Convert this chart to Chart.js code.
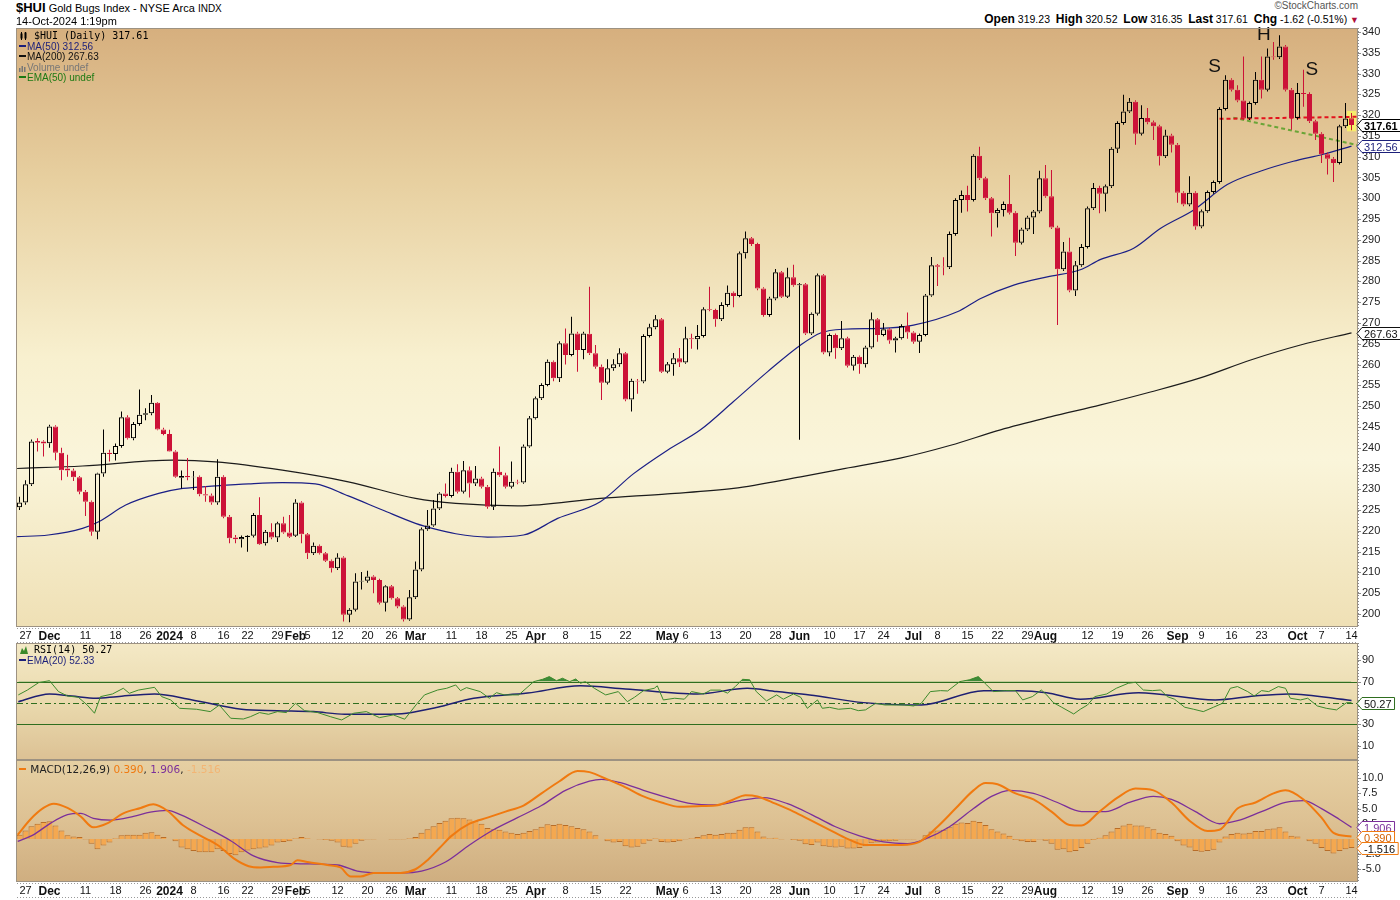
<!DOCTYPE html>
<html>
<head>
<meta charset="utf-8">
<title>$HUI Gold Bugs Index</title>
<script src="https://cdn.jsdelivr.net/npm/chart.js@4.4.1/dist/chart.umd.min.js"></script>
<style>
  html, body { margin: 0; padding: 0; background: #fff; }
  body { width: 1400px; height: 900px; position: relative; overflow: hidden; font-family: "Liberation Sans", Arial, sans-serif; color: #000; }
  canvas { position: absolute; left: 0; }
  .txt { position: absolute; white-space: nowrap; z-index: 2; }
  .mono { font-family: "DejaVu Sans Mono", monospace; font-size: 10px; }
  .leg { font-size: 10px; line-height: 10px; }
  .dash { display: inline-block; width: 7px; height: 2px; vertical-align: middle; margin-right: 1px; position: relative; top: -1px; }
  .hb { font-size: 12px; font-weight: bold; }
</style>
</head>
<body>

<div class="txt" style="left:16px;top:1px;font-size:11px;line-height:14px"><b style="font-size:13px">$HUI</b> Gold Bugs Index - NYSE Arca <span style="font-size:10px">INDX</span></div>
<div class="txt" style="left:16px;top:15px;font-size:11px;line-height:13px">14-Oct-2024 1:19pm</div>
<div class="txt" style="right:42px;top:0px;font-size:10px;line-height:11px;color:#555">©StockCharts.com</div>
<div class="txt" style="right:41px;top:12px;font-size:10.5px;line-height:14px"><span class="hb">Open</span> 319.23 &nbsp;<span class="hb">High</span> 320.52 &nbsp;<span class="hb">Low</span> 316.35 &nbsp;<span class="hb">Last</span> 317.61 &nbsp;<span class="hb">Chg</span> -1.62 (-0.51%) <span style="color:#b0103a;font-size:9px">▼</span></div>

<div class="txt mono" style="left:20px;top:31px;line-height:10px"><svg width="8" height="8" style="vertical-align:-1px"><rect x="0.5" y="1.5" width="2" height="5" fill="#000"/><rect x="4.5" y="0.5" width="2" height="6" fill="#000"/><line x1="1.5" y1="0" x2="1.5" y2="8" stroke="#000"/><line x1="5.5" y1="0" x2="5.5" y2="8" stroke="#000"/></svg> $HUI (Daily) 317.61</div>
<div class="txt leg" style="left:19px;top:42px;color:#1b1f7a"><span class="dash" style="background:#1b1f7a"></span>MA(50) 312.56</div>
<div class="txt leg" style="left:19px;top:52px;color:#111"><span class="dash" style="background:#111"></span>MA(200) 267.63</div>
<div class="txt leg" style="left:19px;top:63px;color:#777"><svg width="7" height="7" style="vertical-align:-1px;margin-right:1px"><rect x="0" y="3" width="1.5" height="4" fill="#777"/><rect x="2.5" y="1" width="1.5" height="6" fill="#777"/><rect x="5" y="2" width="1.5" height="5" fill="#777"/></svg>Volume undef</div>
<div class="txt leg" style="left:19px;top:73px;color:#1d7a14"><span class="dash" style="background:#1d7a14"></span>EMA(50) undef</div>

<div class="txt mono" style="left:20px;top:645px;line-height:10px"><svg width="8" height="8" style="vertical-align:-1px"><path d="M0 8 L2 2 L4 5 L6 0 L8 8 Z" fill="#3a8a2a"/></svg> RSI(14) 50.27</div>
<div class="txt leg" style="left:19px;top:656px;color:#1b1f7a"><span class="dash" style="background:#1b1f7a"></span>EMA(20) 52.33</div>

<div class="txt" style="left:19px;top:764px;font-family:'DejaVu Sans',sans-serif;font-size:10.5px;line-height:11px;color:#222"><span class="dash" style="background:#f07a10"></span> MACD(12,26,9) <span style="color:#f07a10">0.390</span>, <span style="color:#7b2f9a">1.906</span>, <span style="color:#f3b574">-1.516</span></div>

<canvas id="cPrice" width="1400" height="616" style="top:27px"></canvas>
<canvas id="cRsi" width="1400" height="117" style="top:643px"></canvas>
<canvas id="cMacd" width="1400" height="138" style="top:760px"></canvas>

<script>
// ---- daily candles, Nov 24 2023 .. Oct 14 2024 (index = trading day) ----
const opens = [
  225.7,226.8,231.2,241.6,241.5,241.1,245.1,238.8,235.0,234.5,
  232.9,229.4,227.0,219.8,233.8,238.8,238.5,240.4,247.3,242.3,
  245.7,247.9,248.3,250.8,244.4,243.3,239.1,232.8,233.2,232.9,
  233.0,228.8,228.5,226.8,233.0,223.4,218.4,218.0,218.5,218.8,
  223.8,217.0,219.8,218.4,221.8,219.6,218.8,226.8,219.2,214.6,
  216.4,214.6,212.8,211.0,213.6,199.8,201.0,207.8,208.0,209.0,
  208.2,202.7,206.7,203.8,201.8,198.7,204.0,210.7,220.4,221.3,
  225.4,229.0,228.4,234.2,229.4,234.6,231.4,232.6,230.6,225.8,
  234.2,233.4,230.6,231.8,231.6,240.3,247.1,251.9,255.1,260.7,
  256.7,265.1,262.3,267.5,263.5,267.4,262.7,259.5,255.6,259.1,
  260.1,262.7,251.6,256.1,255.9,266.9,269.0,270.9,258.3,260.1,
  261.5,260.5,266.3,266.1,266.9,273.3,273.1,270.9,274.3,277.3,
  276.5,286.8,290.4,289.0,278.3,271.9,275.9,282.2,276.3,281.0,
  279.1,279.3,267.5,272.2,281.5,262.9,267.1,263.9,266.3,259.7,
  261.9,260.1,264.1,270.9,267.1,268.5,265.8,266.3,269.3,267.7,
  265.5,267.1,276.6,283.9,283.5,283.4,291.4,299.6,300.8,299.6,
  310.2,304.8,300.0,296.4,297.2,298.6,296.5,289.3,292.5,295.4,
  296.8,304.8,300.5,293.0,282.9,287.2,277.8,283.9,288.3,297.6,
  302.5,301.1,302.9,311.9,318.1,320.9,323.2,315.5,319.3,318.3,
  317.3,310.1,315.1,312.9,301.3,298.5,301.3,293.2,296.9,301.5,
  303.9,321.5,328.5,326.1,323.5,319.2,322.9,328.5,326.1,334.1,
  333.9,336.5,326.1,319.3,325.3,325.1,318.5,315.5,310.6,309.5,
  308.5,317.3,319.23
];
const highs = [
  228.2,232.2,242.0,242.3,241.8,245.5,245.4,240.0,238.3,235.0,
  233.2,229.8,227.3,234.0,244.4,239.5,241.0,248.7,247.8,246.2,
  254.0,249.5,252.7,251.0,244.8,244.3,239.4,234.5,237.5,234.4,
  233.3,230.8,229.0,237.2,233.4,223.8,219.0,218.9,219.0,224.3,
  228.1,220.2,221.8,222.2,223.4,223.8,227.6,227.1,219.5,217.2,
  216.7,214.9,213.1,214.6,213.9,201.4,209.8,210.1,210.4,209.3,
  208.5,206.9,207.0,204.1,202.1,205.8,212.6,220.8,225.0,227.4,
  229.3,231.4,235.2,236.0,236.8,235.5,235.6,233.0,231.0,235.0,
  240.3,234.0,236.7,232.3,240.8,247.6,252.3,255.5,261.2,261.0,
  265.6,268.7,271.5,267.9,267.9,278.7,264.7,260.0,261.3,261.3,
  263.9,263.0,256.6,256.5,267.3,269.8,271.9,271.2,260.6,262.8,
  264.0,269.1,267.4,269.5,273.8,278.7,273.4,275.0,279.0,277.6,
  287.2,292.0,290.7,289.3,278.6,276.3,283.0,282.5,283.3,284.0,
  279.6,279.6,272.5,281.9,281.8,267.5,267.5,270.5,266.7,262.3,
  262.2,264.5,272.5,271.2,270.0,268.8,266.7,269.7,272.5,268.0,
  267.5,277.0,285.9,284.2,285.8,292.0,300.0,301.9,303.0,310.6,
  312.4,305.2,300.3,297.6,299.2,305.6,296.9,292.9,295.8,297.2,
  306.6,308.0,306.8,293.4,289.5,290.5,284.9,289.0,298.0,303.7,
  303.0,303.3,312.3,318.5,324.9,324.1,323.6,322.4,321.7,318.7,
  317.7,316.5,315.5,313.3,301.7,305.3,301.7,297.3,301.9,304.3,
  321.9,329.6,328.9,327.2,334.1,323.3,330.4,334.1,336.0,337.6,
  339.2,336.9,326.5,327.7,330.9,325.5,318.9,315.9,311.0,309.9,
  317.7,322.9,320.52
];
const lows = [
  225.0,226.3,230.8,239.1,237.9,240.0,237.0,232.2,233.0,232.0,
  228.8,223.6,218.8,218.0,233.0,236.7,236.9,240.0,242.0,241.8,
  245.3,246.6,247.8,244.2,243.0,239.0,232.8,230.2,232.2,229.8,
  228.3,227.0,226.3,226.3,223.0,217.0,217.0,216.0,215.0,218.4,
  216.6,216.5,218.0,217.3,219.3,218.3,218.5,217.0,213.2,214.2,
  214.3,212.5,210.0,210.6,198.2,198.0,200.6,205.9,207.5,205.0,
  202.3,200.6,203.5,201.4,198.2,198.4,203.6,210.3,220.0,221.0,
  225.0,228.0,228.0,229.0,229.0,228.0,230.8,230.2,225.3,225.0,
  233.0,230.2,230.2,231.2,231.3,240.0,246.8,251.5,254.8,256.0,
  255.8,260.0,262.0,258.3,261.3,262.3,259.0,251.5,255.2,258.5,
  259.5,251.2,248.7,253.0,255.5,266.5,268.5,258.0,257.9,257.3,
  259.4,260.2,263.8,263.6,266.5,272.8,269.1,270.5,273.9,273.8,
  276.2,285.5,288.5,277.9,271.5,271.5,275.5,276.0,276.0,278.7,
  241.9,267.1,267.1,271.8,262.5,262.0,261.4,263.5,259.3,258.6,
  257.8,259.3,263.8,265.5,266.8,265.0,262.9,266.0,266.2,265.0,
  262.8,266.8,276.3,278.9,281.5,283.0,291.0,296.5,296.8,299.2,
  304.4,299.6,290.8,293.0,295.6,296.1,286.1,288.9,292.1,291.4,
  296.4,300.1,292.6,269.5,282.5,277.4,276.5,283.5,287.9,297.2,
  296.4,296.8,302.5,310.9,317.7,320.5,312.9,315.1,317.8,314.0,
  307.9,309.7,311.0,298.9,298.1,298.1,292.4,292.8,296.5,301.1,
  303.5,321.1,325.7,323.1,318.8,318.8,322.5,324.0,325.7,333.3,
  333.5,325.7,316.5,318.9,322.0,318.1,314.0,308.5,305.7,303.9,
  308.1,316.9,316.35
];
const closes = [
  226.8,231.2,241.5,241.2,241.0,245.1,238.8,234.6,234.5,232.9,
  229.4,227.0,219.8,233.8,238.8,238.5,240.4,247.3,242.3,245.7,
  247.9,248.3,250.8,244.4,243.3,239.1,233.0,233.2,232.9,233.0,
  228.8,228.5,226.8,233.0,223.4,218.2,218.0,218.5,218.8,223.8,
  216.8,219.8,218.4,221.8,219.6,218.6,226.8,219.2,214.6,216.4,
  214.6,212.8,211.0,213.6,199.8,201.0,207.8,208.0,209.0,208.2,
  202.7,206.7,203.8,201.8,198.7,204.0,210.7,220.4,221.3,225.4,
  229.0,228.4,234.2,229.4,234.6,231.4,232.6,230.6,225.8,234.2,
  233.4,230.6,231.8,231.6,240.3,247.1,251.9,255.1,260.7,256.7,
  265.1,262.3,267.5,263.5,267.5,262.7,259.5,255.6,259.1,260.1,
  262.7,251.6,256.1,255.9,266.9,269.0,270.9,258.3,260.1,261.5,
  260.5,266.3,266.1,266.9,273.3,273.1,270.9,274.3,277.3,276.5,
  286.8,290.4,289.0,278.3,271.9,275.9,282.2,276.3,281.0,279.1,
  279.3,267.5,272.2,281.5,262.9,267.1,263.9,266.3,259.7,261.9,
  260.1,264.1,270.9,267.1,268.5,265.8,266.3,269.3,267.7,265.5,
  267.1,276.6,283.9,283.5,283.4,291.4,299.6,300.8,299.6,310.2,
  304.8,300.0,296.4,297.2,298.6,296.5,289.3,292.5,295.4,296.8,
  304.8,300.5,293.0,282.9,287.2,277.8,283.9,288.3,297.6,302.5,
  301.1,302.9,311.9,318.1,320.9,323.2,315.5,319.3,318.3,317.3,
  310.1,315.1,312.9,301.3,298.5,301.3,293.2,296.9,301.5,303.9,
  321.5,328.5,326.1,323.5,319.2,322.9,328.5,326.1,334.1,333.9,
  336.5,326.1,319.3,325.3,325.1,318.5,315.5,310.6,309.5,308.5,
  317.3,319.2,317.61
];

// moving averages (trading-day index, value)
const ma50Idx = [-0.4,4.8,10.5,13.2,17.7,23.2,27.2,32.7,38.2,43.8,49.3,54.8,60.5,66,69.3,72.7,78,84,89.7,96.8,102.3,108,113.5,119,124.7,130.2,133.5,137.3,143.5,149,156.3,160.2,165.7,171.3,176.8,180.2,185.7,190.2,195.7,201.3,206.8,212.3,217.3,222];
const ma50Val = [218.6,219.0,220.6,222.2,226.2,229.0,230.2,230.8,231.3,231.6,231.3,228.4,225.0,221.8,220.4,219.3,218.5,219.0,223.0,227.0,233.7,239.4,244.3,251.1,258.3,264.7,267.6,268.5,268.7,269.5,272.7,275.9,279.1,281.1,282.8,285.3,288.0,292.8,297.2,303.3,306.5,308.9,310.6,312.56];
const ma200Idx = [-0.4,10.5,25.5,32.7,43.8,54.8,66,72.7,83,96.8,108,119,130.2,136.8,146.8,155.2,163.5,171.8,180.2,188.5,196.8,205.2,213.5,222];
const ma200Val = [235.0,235.6,237.0,236.6,234.6,231.8,227.8,226.6,226.0,227.8,228.9,230.2,233.0,234.8,237.5,240.6,244.3,247.4,250.3,253.4,256.8,261.1,264.7,267.63];

// head & shoulders markup
const necklineIdx = [200, 223];
const necklineVal = [319.1, 319.6];
const trendIdx = [202.3, 223];
const trendVal = [319.4, 312.8];
const shsText = ['S', 'H', 'S'];
const shsIdx = [199.2, 207.4, 215.4];
const shsVal = [331.7, 339.4, 330.9];

// RSI(14) and its EMA(20)
const rsiIdx = [-0.2,1.3,3.2,5,6.5,8,9.8,11.3,12.5,13.5,15.5,17.3,18.3,19.8,22.5,23.7,25.2,26.7,29.5,31.8,33.3,35.2,37.3,38.5,40,41.5,43,44.5,46,47.5,49.7,51.8,53.7,55.7,57.8,60,62.3,64.2,66.3,67.5,69.7,71.2,72.7,73.5,74.5,76.8,78.3,79.5,80.8,83.2,85.7,87.2,88.3,89.5,90.5,91.7,92.7,93.5,94.3,95.8,97.7,99.8,101.3,102.5,104,105.8,106.3,107.3,109.2,110.8,112,114,115.2,116.8,118,119.3,120.5,121.7,122.8,124.5,126.2,127.3,129,130.2,131.3,133,133.8,135,136.5,138.5,139.8,141,142.7,144.2,146.2,147.5,149,150.3,151.8,153.5,154.7,156.7,158.3,159.8,161.2,162.3,164.3,166,167.2,168.8,170.3,171.2,172.3,173.7,175.7,176.8,178,179.2,181.2,182.8,184.8,186,187.3,188.8,190.2,191.3,192.5,194.2,195.7,197.3,199,200.5,201.8,203,204.7,205.8,207,208.2,209.8,211,211.8,213.5,214.7,216.3,217.8,219.5,221.2,222];
const rsiVal = [57.5,62,69,70.8,60.6,56.5,55.3,48,40.4,55.9,58.4,63.7,59,62,64.6,55.9,52.8,45,44.1,41.9,48,35.7,35,37.2,41,39.4,41.9,41,49.7,42.8,41,37.2,34.1,40.4,41.9,36.3,38.8,34.8,49.7,57.5,62.1,63.7,66.8,61.5,64.3,60.6,54.4,59.6,57.5,57.5,69.9,72.1,74.6,70.8,73.1,69.9,72.4,68.4,69.9,63.7,57.5,60.6,51.2,55.3,61.5,63.7,66,52.8,54.4,53.5,60.6,58.4,62,62,59.2,65.3,72.1,71.6,60.6,51.9,57.5,53.5,58.4,55.3,45,52.8,45,45.9,44.1,45,42.8,43.5,49.7,48.1,48.1,48.1,47.2,49.7,60.6,61.5,61.2,69.9,71.6,74.6,66.8,60.6,61.5,61.5,52.8,55.9,62.1,57.5,50.3,46,39.7,44.1,48.1,55.9,58.4,63.7,68.4,69.3,62.1,61.5,62.1,55.9,53.5,46,44.1,41.9,46,49.7,63.7,65.3,60.6,56.5,61.5,60.6,65.3,63.7,54.4,52.8,54.4,47.2,45,43.5,50.3,50.27];
const rsiEmaIdx = [-0.2,5,8.7,12.8,16.2,22.5,28.8,37,43,49,54.2,60.8,64.5,69.7,75.7,84.7,93.5,101,113,121.3,126.2,131.7,140.7,150.3,160.7,166.3,171.2,176.8,186.5,199.3,205.8,211.5,222];
const rsiEmaVal = [51.2,58.4,56.5,54.4,55.9,58.4,52.8,44.1,42.8,41.9,39.4,39.4,40.4,46,54.4,59.2,66,63.1,58.4,63.7,60.6,57.5,50.3,48.1,61.5,61.5,59.6,53.5,59.6,52.8,56.5,58.4,52.33];

// MACD(12,26,9)
const macdIdx = [-0.3,1.8,4,5.7,8,10.2,12.3,14.7,17.3,20.2,22.3,24.7,27.2,30.2,33,35.7,38.2,40.2,42.3,45.2,46.3,48,51.3,53.5,55.2,56.8,59,61.3,63.5,66,68,70,72,75,78,81,84,87,90,93,95,98,101,104,107,110,113,116,119,121,123,126,129,132,135,138,141,144,147,150,153,156,159,161,163,166,169,172,175,177,180,183,186,189,192,195,198,200,203,206,209,211,214,217,219,222];
const macdVal = [0.67,3.2,5.1,5.8,5.1,3.7,1.9,2.6,4.2,5.1,5.7,4.6,2.3,0.5,-1.0,-3.2,-4.5,-4.7,-4.6,-4.3,-3.5,-3.8,-4.3,-4.7,-6.2,-6.2,-5.6,-5.6,-5.6,-5.0,-3.5,-1.5,0.5,2.5,3.5,4.5,5.5,7.5,9.5,11.2,11.0,9.8,8.5,7.0,6.0,5.3,5.4,5.5,6.5,7.2,7.0,5.8,4.5,3.0,1.5,0.0,-1.0,-1.0,-1.0,-0.5,2.0,5.0,8.0,9.2,9.0,7.5,6.5,4.5,2.3,2.2,4.5,6.8,8.3,8.0,6.0,3.0,1.3,1.5,5.0,6.0,7.5,8.0,6.5,3.5,1.0,0.39];
const sigIdx = [-0.3,2.3,5.2,8,10.2,12.3,15.2,19,21.8,24.7,26.8,31.3,35.2,39,43,46.8,53,56.3,60.2,63.5,67,71,75,79,83,87,91,95,97,100,104,108,112,116,120,124,128,132,136,140,144,148,151,155,159,162,165,169,173,177,181,185,189,192,196,200,203,207,211,214,217,220,222];
const sigVal = [-0.4,0.67,2.6,4.0,4.2,3.4,3.1,3.7,4.4,4.7,4.0,1.8,-0.3,-2.8,-3.9,-4.1,-4.3,-5.3,-5.6,-5.6,-5.3,-3.8,-1.0,1.5,3.5,5.5,8.0,9.5,9.8,9.3,8.0,6.8,5.8,5.6,6.3,6.8,5.8,4.0,2.0,0.5,-0.5,-0.8,0.0,2.0,5.0,7.0,8.0,7.5,6.0,4.5,4.5,6.0,7.0,6.5,4.5,2.5,3.0,4.5,6.0,6.3,5.0,3.2,1.906];
const hist = [
  0.7,1.4,2.1,2.5,2.8,2.9,2.2,1.4,0.6,0.4,
  0.3,-0.1,-0.8,-1.7,-1.1,-0.6,0.1,0.6,0.7,0.7,
  0.7,1.0,1.1,0.7,0.3,0.0,-0.4,-1.4,-1.7,-2.0,
  -2.2,-2.2,-2.2,-1.7,-2.0,-2.5,-2.7,-2.2,-1.9,-1.7,
  -1.6,-1.4,-1.1,-0.6,-0.5,-0.4,0.1,0.3,0.1,0.0,
  -0.1,-0.2,-0.3,-0.6,-1.3,-1.4,-0.8,-0.3,-0.1,-0.1,
  0.0,0.0,-0.1,-0.1,-0.1,0.1,0.3,1.0,1.6,2.1,
  2.6,3.0,3.4,3.5,3.4,3.2,2.9,2.5,1.8,1.6,
  1.5,1.2,1.0,0.8,1.0,1.3,1.6,2.0,2.4,2.3,
  2.5,2.3,2.1,1.8,1.6,1.2,0.6,0.0,-0.4,-0.6,
  -0.5,-1.2,-1.4,-1.3,-0.8,-0.3,0.1,-0.5,-0.6,-0.5,
  -0.4,-0.1,0.1,0.3,0.6,0.8,0.7,0.8,1.0,1.0,
  1.5,1.9,1.9,1.2,0.4,0.1,0.2,-0.1,0.0,-0.2,
  -0.3,-0.9,-1.0,-0.6,-1.2,-1.3,-1.4,-1.3,-1.6,-1.6,
  -1.5,-1.2,-0.7,-0.6,-0.4,-0.4,-0.3,-0.1,-0.1,-0.1,
  0.0,0.6,1.2,1.4,1.5,1.9,2.5,2.7,2.6,3.0,
  2.8,2.3,1.6,1.2,0.9,0.5,-0.2,-0.4,-0.5,-0.5,
  -0.1,-0.3,-0.8,-1.8,-1.7,-2.2,-2.0,-1.5,-0.8,-0.2,
  0.2,0.6,1.2,1.8,2.2,2.5,2.2,2.2,1.9,1.6,
  1.0,0.8,0.5,-0.4,-1.1,-1.4,-2.0,-2.1,-2.0,-1.8,
  -0.6,0.4,0.8,1.0,0.9,1.0,1.3,1.3,1.6,1.7,
  1.9,1.2,0.5,0.4,0.0,-0.4,-0.8,-1.5,-2.0,-2.4,
  -2.0,-1.7,-1.516
];

// axis ticks
const xTickIdx = [1,5,11,16,21,25,29,34,38,43,46,48,53,58,62,66,72,77,82,86,91,96,101,108,111,116,121,126,130,135,140,144,149,153,158,163,168,171,178,183,188,193,197,202,207,213,217,222];
const xTickText = ["27","Dec","11","18","26","2024","8","16","22","29","Feb","5","12","20","26","Mar","11","18","25","Apr","8","15","22","May","6","13","20","28","Jun","10","17","24","Jul","8","15","22","29","Aug","12","19","26","Sep","9","16","23","Oct","7","14"];
const boldTicks = ["Dec","2024","Feb","Mar","Apr","May","Jun","Jul","Aug","Sep","Oct"];
const priceTicks = [200,205,210,215,220,225,230,235,240,245,250,255,260,265,270,275,280,285,290,295,300,305,310,315,320,325,330,335,340];
const rsiTicks = [10,30,50,70,90];
const macdTicks = [-5,-2.5,0,2.5,5,7.5,10];

const FONT = '"Liberation Sans", Arial, sans-serif';
const RED = '#cc1238';
const X_MIN = -0.4167, X_MAX = 222.917;

const pts = (xs, ys) => xs.map((x, i) => ({ x: x, y: ys[i] }));

function xScale(show) {
  return {
    type: 'linear', min: X_MIN, max: X_MAX, offset: false, display: show,
    grid: { display: false, drawTicks: false }, border: { display: false },
    afterBuildTicks: s => { s.ticks = xTickIdx.map(v => ({ value: v })); },
    afterFit: s => { s.height = show ? 16 : 0; s.paddingLeft = 0; s.paddingRight = 0; },
    ticks: {
      autoSkip: false, maxRotation: 0, minRotation: 0, padding: 2, color: '#111',
      font: c => boldTicks.includes(xTickText[c.index]) ? { family: FONT, size: 12, weight: 'bold' } : { family: FONT, size: 11 },
      callback: (v, i) => xTickText[i]
    }
  };
}

function yScale(min, max, ticks, fmt) {
  return {
    type: 'linear', position: 'right', min: min, max: max,
    grid: { display: false, drawTicks: false }, border: { display: false },
    afterBuildTicks: s => { s.ticks = ticks.map(v => ({ value: v })); },
    afterFit: s => { s.width = 43; s.paddingTop = 0; s.paddingBottom = 0; },
    ticks: { padding: 5, color: '#222', font: { family: FONT, size: 11 }, callback: fmt }
  };
}

function baseOptions(top) {
  return {
    responsive: false, animation: false, devicePixelRatio: 1, events: [],
    layout: { autoPadding: false, padding: { left: 17, right: 0, top: top, bottom: 0 } },
    plugins: { legend: { display: false }, tooltip: { enabled: false } }
  };
}

function fillBg(ctx, a, stops) {
  const g = ctx.createLinearGradient(0, a.top, 0, a.bottom);
  stops.forEach(s => g.addColorStop(s[0], s[1]));
  ctx.fillStyle = g;
  ctx.fillRect(a.left, a.top, a.right - a.left, a.bottom - a.top);
}

function frame(chart) {
  const { ctx, chartArea: a } = chart;
  ctx.save();
  ctx.strokeStyle = '#9d9282';
  ctx.lineWidth = 1;
  ctx.strokeRect(a.left - 0.5, a.top + 0.5, a.right - a.left + 1, a.bottom - a.top - 1);
  // dotted axis line + tick marks on the right
  ctx.strokeStyle = '#8a8a8a';
  ctx.setLineDash([1, 2]);
  ctx.beginPath();
  ctx.moveTo(a.right + 1.5, a.top); ctx.lineTo(a.right + 1.5, a.bottom);
  ctx.stroke();
  ctx.setLineDash([]);
  const y = chart.scales.y;
  ctx.beginPath();
  y.ticks.forEach(t => { const py = Math.round(y.getPixelForValue(t.value)) + 0.5; ctx.moveTo(a.right + 1, py); ctx.lineTo(a.right + 4, py); });
  ctx.stroke();
  ctx.restore();
}

function strip(chart) {
  const { ctx, chartArea: a } = chart;
  ctx.save();
  ctx.strokeStyle = '#999';
  ctx.setLineDash([1, 2]);
  ctx.beginPath();
  ctx.moveTo(a.left, a.bottom + 1.5); ctx.lineTo(a.right, a.bottom + 1.5);
  ctx.moveTo(a.left, a.bottom + 15.5); ctx.lineTo(a.right, a.bottom + 15.5);
  ctx.stroke();
  ctx.restore();
}

function tag(ctx, x, y, text, border, color, bold) {
  ctx.save();
  ctx.font = (bold ? 'bold ' : '') + '11px ' + FONT;
  const w = ctx.measureText(text).width + 5, h = 12;
  const yy = Math.round(y) + 0.5;
  ctx.beginPath();
  ctx.moveTo(x, yy);
  ctx.lineTo(x + 5, yy - h / 2);
  ctx.lineTo(x + 5 + w, yy - h / 2);
  ctx.lineTo(x + 5 + w, yy + h / 2);
  ctx.lineTo(x + 5, yy + h / 2);
  ctx.closePath();
  ctx.fillStyle = '#fff';
  ctx.fill();
  ctx.strokeStyle = border;
  ctx.lineWidth = 1;
  ctx.stroke();
  ctx.fillStyle = color;
  ctx.textBaseline = 'middle';
  ctx.textAlign = 'left';
  ctx.fillText(text, x + 7, yy + 1);
  ctx.restore();
}

// ---------------- price panel ----------------
const isUp = closes.map((c, i) => c >= opens[i]);
const bodyData = closes.map((c, i) => ({ x: i, y: [opens[i], c] }));
const wickData = [], wickColor = [];
closes.forEach((c, i) => {
  const top = Math.max(opens[i], c), bot = Math.min(opens[i], c);
  const col = isUp[i] ? '#000' : RED;
  wickData.push({ x: i, y: [top, highs[i]] }); wickColor.push(col);
  wickData.push({ x: i, y: [lows[i], bot] }); wickColor.push(col);
});

const pricePanel = {
  id: 'pricePanel',
  beforeDraw(chart) {
    fillBg(chart.ctx, chart.chartArea, [[0, '#d6af7e'], [0.25, '#e7cf9f'], [0.55, '#f8f0cf'], [0.72, '#faf5da'], [1, '#efe0b5']]);
  },
  beforeDatasetsDraw(chart) {
    const { ctx, scales: { x, y } } = chart;
    const i = closes.length - 1;
    const px = x.getPixelForValue(i);
    const top = y.getPixelForValue(highs[i]) - 2, bot = y.getPixelForValue(lows[i]) + 1;
    ctx.save();
    ctx.fillStyle = '#f6ee6c';
    ctx.fillRect(Math.round(px) - 4, top, 9, bot - top);
    ctx.restore();
  },
  afterDatasetsDraw(chart) {
    const { ctx, scales: { x, y } } = chart;
    ctx.save();
    ctx.fillStyle = '#111';
    ctx.font = '19px ' + FONT;
    ctx.textAlign = 'center';
    ctx.textBaseline = 'middle';
    shsText.forEach((t, k) => ctx.fillText(t, x.getPixelForValue(shsIdx[k]), y.getPixelForValue(shsVal[k])));
    ctx.restore();
  },
  afterDraw(chart) {
    frame(chart);
    strip(chart);
    const { ctx, chartArea: a, scales: { y } } = chart;
    tag(ctx, a.right, y.getPixelForValue(267.63), '267.63', '#111', '#111', false);
    tag(ctx, a.right, y.getPixelForValue(312.56), '312.56', '#1b1f7a', '#1b1f7a', false);
    tag(ctx, a.right, y.getPixelForValue(317.61), '317.61', '#000', '#000', true);
  }
};

new Chart(document.getElementById('cPrice'), {
  type: 'bar',
  data: {
    datasets: [
      { type: 'bar', data: bodyData, backgroundColor: isUp.map(u => u ? 'rgba(0,0,0,0)' : RED),
        borderColor: isUp.map(u => u ? '#000' : RED), borderWidth: 1, borderSkipped: false,
        barThickness: 5, grouped: false, inflateAmount: 0, order: 0 },
      { type: 'bar', data: wickData, backgroundColor: wickColor, borderWidth: 0,
        barThickness: 1, grouped: false, inflateAmount: 0, order: 1 },
      { type: 'line', data: pts(ma50Idx, ma50Val), borderColor: '#1b1f86', borderWidth: 1.2,
        pointRadius: 0, cubicInterpolationMode: 'monotone', order: 3 },
      { type: 'line', data: pts(ma200Idx, ma200Val), borderColor: '#1c1c1c', borderWidth: 1.2,
        pointRadius: 0, cubicInterpolationMode: 'monotone', order: 3 },
      { type: 'line', data: pts(necklineIdx, necklineVal), borderColor: '#e3121c', borderWidth: 2,
        borderDash: [4, 3], pointRadius: 0, order: 2 },
      { type: 'line', data: pts(trendIdx, trendVal), borderColor: '#6aa537', borderWidth: 2,
        borderDash: [4, 3], pointRadius: 0, order: 2 }
    ]
  },
  options: Object.assign(baseOptions(1), {
    scales: {
      x: xScale(true),
      y: yScale(196.87, 340.96, priceTicks, v => String(v))
    }
  }),
  plugins: [pricePanel]
});

// ---------------- RSI panel ----------------
const rsiPanel = {
  id: 'rsiPanel',
  beforeDraw(chart) {
    fillBg(chart.ctx, chart.chartArea, [[0, '#f4e9c6'], [0.5, '#eadaae'], [1, '#dcc194']]);
  },
  beforeDatasetsDraw(chart) {
    const { ctx, chartArea: a, scales: { y } } = chart;
    ctx.save();
    ctx.strokeStyle = '#2f6e1f';
    ctx.lineWidth = 1;
    ctx.beginPath();
    [70, 30].forEach(v => { const py = Math.round(y.getPixelForValue(v)) + 0.5; ctx.moveTo(a.left, py); ctx.lineTo(a.right, py); });
    ctx.stroke();
    ctx.setLineDash([6, 3, 2, 3]);
    ctx.beginPath();
    const p50 = Math.round(y.getPixelForValue(50)) + 0.5;
    ctx.moveTo(a.left, p50); ctx.lineTo(a.right, p50);
    ctx.stroke();
    ctx.restore();
  },
  afterDraw(chart) {
    frame(chart);
    const { ctx, chartArea: a, scales: { y } } = chart;
    tag(ctx, a.right, y.getPixelForValue(50.27), '50.27', '#2f6e1f', '#111', false);
  }
};

new Chart(document.getElementById('cRsi'), {
  type: 'line',
  data: {
    datasets: [
      { data: pts(rsiIdx, rsiVal), borderColor: '#3c8a2c', borderWidth: 1, pointRadius: 0,
        fill: { target: { value: 70 }, above: '#3f8b38', below: 'rgba(0,0,0,0)' }, order: 0 },
      { data: pts(rsiEmaIdx, rsiEmaVal), borderColor: '#1e1f72', borderWidth: 1.5, pointRadius: 0,
        cubicInterpolationMode: 'monotone', fill: false, order: 1 }
    ]
  },
  options: Object.assign(baseOptions(0), {
    scales: {
      x: xScale(false),
      y: yScale(-3.3, 106, rsiTicks, v => String(v))
    }
  }),
  plugins: [rsiPanel]
});

// ---------------- MACD panel ----------------
const macdPanel = {
  id: 'macdPanel',
  beforeDraw(chart) {
    fillBg(chart.ctx, chart.chartArea, [[0, '#e6d0a3'], [0.5, '#ddc193'], [1, '#cfae80']]);
  },
  afterDraw(chart) {
    frame(chart);
    strip(chart);
    const { ctx, chartArea: a, scales: { y } } = chart;
    tag(ctx, a.right, y.getPixelForValue(1.906), '1.906', '#7b2f9a', '#7b2f9a', false);
    tag(ctx, a.right, y.getPixelForValue(0.39), '0.390', '#f07a10', '#d35f00', false);
    tag(ctx, a.right, y.getPixelForValue(-1.516), '-1.516', '#f07a10', '#111', false);
  }
};

new Chart(document.getElementById('cMacd'), {
  type: 'bar',
  data: {
    datasets: [
      { type: 'bar', data: hist.map((v, i) => ({ x: i, y: v })), backgroundColor: '#f4a850',
        borderColor: '#b86d28', borderWidth: { left: 1, right: 0, top: 1, bottom: 1 }, borderSkipped: 'start',
        barThickness: 6, grouped: false, inflateAmount: 0, order: 2 },
      { type: 'line', data: pts(sigIdx, sigVal), borderColor: '#7b2f9a', borderWidth: 1.3,
        pointRadius: 0, cubicInterpolationMode: 'monotone', order: 1 },
      { type: 'line', data: pts(macdIdx, macdVal), borderColor: '#f07a10', borderWidth: 2,
        pointRadius: 0, cubicInterpolationMode: 'monotone', order: 0 }
    ]
  },
  options: Object.assign(baseOptions(0), {
    scales: {
      x: xScale(true),
      y: yScale(-7.1, 13.0, macdTicks, v => v.toFixed(1))
    }
  }),
  plugins: [macdPanel]
});
</script>
</body>
</html>
